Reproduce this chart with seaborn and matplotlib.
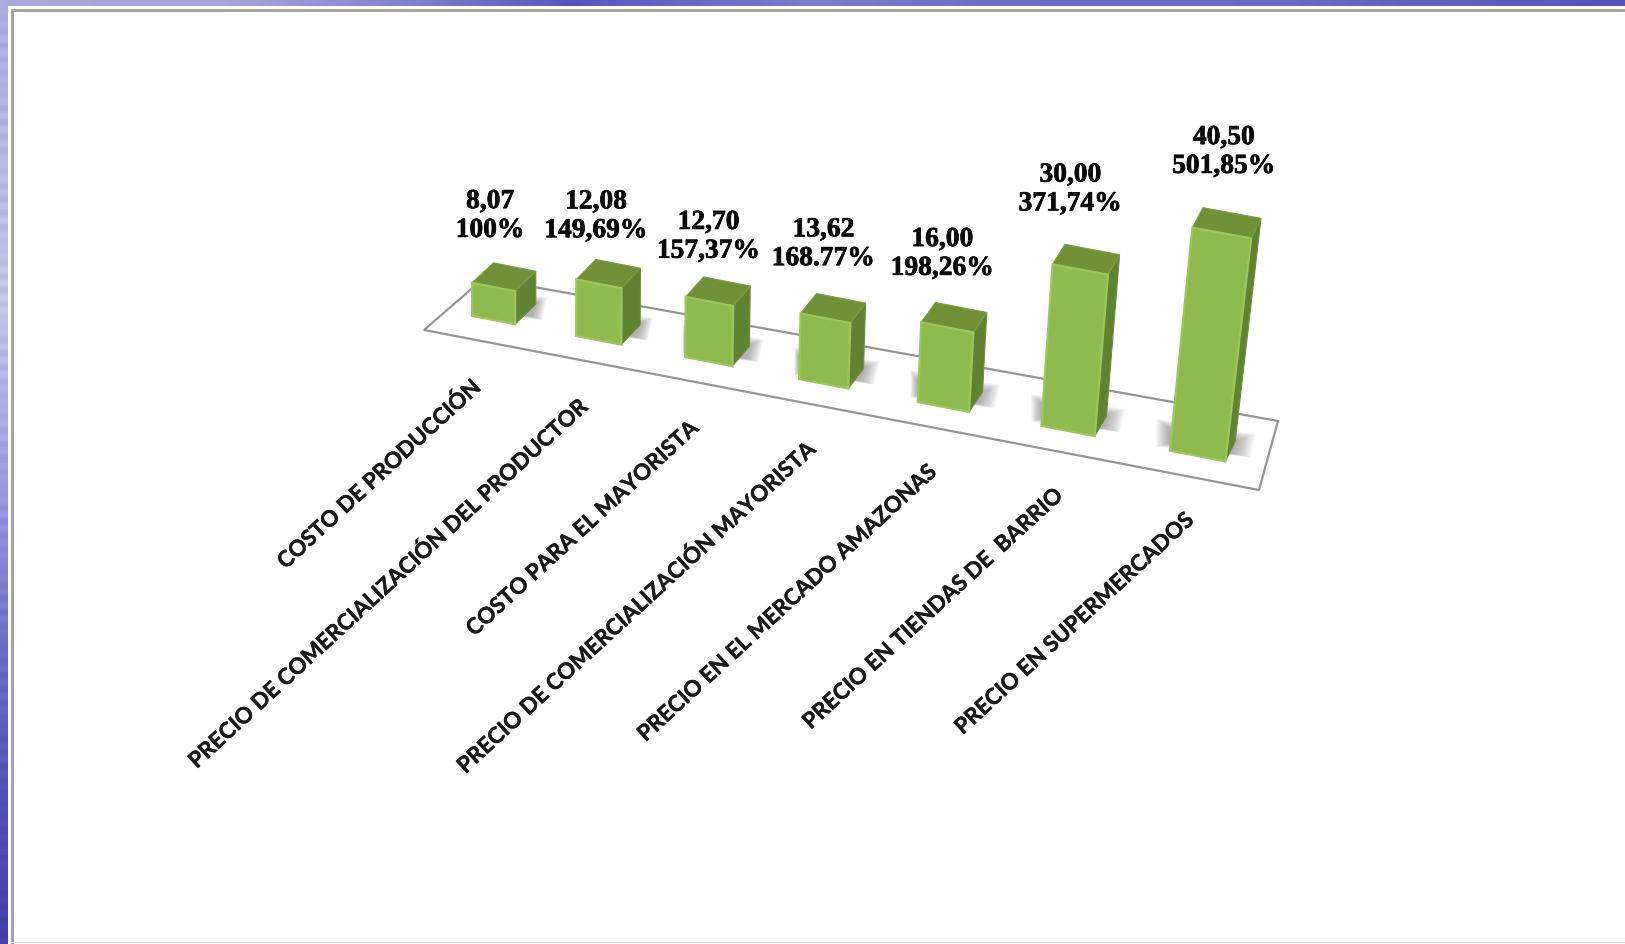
import numpy as np
import pandas as pd
import matplotlib
matplotlib.use('Agg')
import matplotlib.pyplot as plt
import matplotlib.patheffects as pe
import matplotlib.transforms as mtransforms
from matplotlib.patches import Polygon, Rectangle
import seaborn as sns

# values
categories = [
    'COSTO DE PRODUCCIÓN',
    'PRECIO DE COMERCIALIZACIÓN DEL PRODUCTOR',
    'COSTO PARA EL MAYORISTA',
    'PRECIO DE COMERCIALIZACIÓN MAYORISTA',
    'PRECIO EN EL MERCADO AMAZONAS',
    'PRECIO EN TIENDAS DE  BARRIO',
    'PRECIO EN SUPERMERCADOS',
]
prices = [8.07, 12.08, 12.70, 13.62, 16.00, 30.00, 40.50]
price_labels = ['8,07', '12,08', '12,70', '13,62', '16,00', '30,00', '40,50']
percent_labels = ['100%', '149,69%', '157,37%', '168.77%', '198,26%', '371,74%', '501,85%']

W, H = 1625, 945
BASE = 2.44  # the value axis of the original does not start at zero
label_nudge = [(-3.5, 6), (-3, 9.5), (-1, 12.4), (-2, 3), (-5, 3.5), (-10, -3), (2, -4)]


def to_px(x, v, depth=0.0):
    # oblique view: category and value -> pixel position (y going down)
    x = np.asarray(x, dtype=float)
    v = np.asarray(v, dtype=float)
    px = 493.5 + 102.7 * x + 2.44 * x ** 2
    py = 321 + 0.1932 * (px - 493.5)
    h = 5.86 * (v - BASE)
    lean = 0.003 * np.maximum(x, 0) ** 2
    return px + lean * h + depth * (21 - 1.8 * x), py - h - depth * 20


class ObliqueView(mtransforms.Transform):
    input_dims = 2
    output_dims = 2

    def transform_non_affine(self, values):
        px, py = to_px(values[:, 0], values[:, 1])
        return np.column_stack([px, H - py])


def disp(pts):
    return [(a, H - b) for a, b in pts]


sns.set_theme(style='white')
fig = plt.figure(figsize=(W / 100, H / 100), dpi=100, facecolor='white')
ax = fig.add_axes([0, 0, 1, 1])

df = pd.DataFrame({'categoria': categories, 'precio': prices})
sns.barplot(data=df, x='categoria', y='precio', order=categories, width=0.42,
            color='#8FBB4E', saturation=1, ax=ax, zorder=6)
idt = mtransforms.IdentityTransform()


def add_poly(pts, **kw):
    p = Polygon(disp(pts), closed=True, transform=idt, clip_on=False, **kw)
    ax.add_patch(p)
    return p


# slide background: blue band on top and left, white panel with a grey rim
top_pos = [0, 0.14, 0.25, 0.35, 0.5, 0.6, 0.8, 1]
top_rgb = np.array([[170, 170, 222], [165, 165, 220], [130, 130, 210], [85, 85, 190],
                    [125, 125, 210], [110, 110, 200], [105, 105, 200], [85, 85, 185]]) / 255
xs = np.linspace(0, 1, 400)
top_img = np.stack([np.interp(xs, top_pos, top_rgb[:, c]) for c in range(3)], axis=-1)[None, :, :]
ax.imshow(top_img, extent=(0, W, H - 7, H), transform=idt, aspect='auto', zorder=1, clip_on=False)

left_pos = [0, 0.32, 0.53, 0.68, 0.85, 1]
left_rgb = np.array([[170, 170, 222], [195, 195, 238], [150, 150, 220],
                     [110, 110, 200], [80, 80, 180], [65, 65, 170]]) / 255
ys = np.linspace(0, 1, 472)
stripes = 1 + 0.05 * np.sin(ys * 420) * np.sin(ys * 37)
left = np.stack([np.clip(np.interp(ys, left_pos, left_rgb[:, c]) * stripes, 0, 1) for c in range(3)],
                axis=-1)[:, None, :]
ax.imshow(left, extent=(0, 8, 0, H - 7), transform=idt, aspect='auto', zorder=1, clip_on=False)
ax.add_patch(Rectangle((11, H - 12.5), W, 2.5, transform=idt, color='#A4A49E', lw=0, zorder=2, clip_on=False))
ax.add_patch(Rectangle((11, 0), 2.5, H - 10, transform=idt, color='#A4A49E', lw=0, zorder=2, clip_on=False))
ax.add_patch(Rectangle((11, 1), W, 1, transform=idt, color='#DADADA', lw=0, zorder=2, clip_on=False))

# floor of the chart
add_poly([(424, 331), (1259, 491), (1278, 422), (484, 279)], facecolor='white',
         edgecolor='#959595', lw=1.6, zorder=3)

for i, bar in enumerate(ax.patches[:len(prices)]):
    x0, x1 = bar.get_x(), bar.get_x() + bar.get_width()
    v = bar.get_height()

    # shadow behind the bar, several soft layers
    bl = to_px(x0, BASE)
    br = to_px(x1, BASE)
    reach = 11 + 1.5 * i
    back = 21 - 1.8 * i
    left_reach = 0.8 * i + 0.25 * i ** 2
    for grow in np.linspace(1, 0.1, 12):
        add_poly([(bl[0] - left_reach * grow, bl[1] - 32 + 10 * (1 - grow)),
                  (br[0] + back + reach * grow, br[1] - 27 + 6 * (1 - grow)),
                  (br[0] + back + reach * grow - 5, br[1] - 4 - 4 * (1 - grow)),
                  (bl[0] - left_reach * grow, bl[1] - 4 - 4 * (1 - grow))],
                 facecolor='#6A6A6A', edgecolor='none', alpha=0.055, zorder=4)

    # right side and top faces, from the same geometry as the front
    add_poly([to_px(x1, BASE), to_px(x1, v), to_px(x1, v, 1), to_px(x1, BASE, 1)],
             facecolor='#5F8233', edgecolor='#6C8F3A', lw=0.8, zorder=5)
    add_poly([to_px(x0, v), to_px(x1, v), to_px(x1, v, 1), to_px(x0, v, 1)],
             facecolor='#6F9238', edgecolor='#7B9E42', lw=0.8, zorder=5)

    # front face
    bar.set_y(BASE)
    bar.set_height(v - BASE)
    bar.set_transform(ObliqueView())
    bar.set_clip_on(False)
    bar.set_edgecolor('#9DC65C')
    bar.set_linewidth(1.6)

    # value and percentage above the bar
    tx, ty = to_px((x0 + x1) / 2, v)
    dx, dy = label_nudge[i]
    ax.text(float(tx) + dx, H - (float(ty) - 77 + dy), price_labels[i] + '\n' + percent_labels[i],
            transform=idt, ha='center', va='center', multialignment='center', linespacing=1.2,
            family='Liberation Serif', weight='bold', fontsize=19.8, color='#0A0A0A', zorder=8,
            path_effects=[pe.withStroke(linewidth=0.5, foreground='#0A0A0A')])

    # slanted category label, ending under the bar
    cx, cy = to_px((x0 + x1) / 2, BASE)
    ax.text(float(cx) - 16 + 1.5 * i, H - (float(cy) + 64 - 0.5 * i), categories[i], transform=idt,
            rotation=42.6, rotation_mode='anchor', ha='right', va='center',
            family='Lato', weight='bold', fontsize=16, color='#1A1A1A', zorder=8,
            path_effects=[pe.withStroke(linewidth=0.3, foreground='#1A1A1A')])

ax.set_xlim(0, W)
ax.set_ylim(0, H)
ax.axis('off')
fig.savefig('out.png', dpi=100)
